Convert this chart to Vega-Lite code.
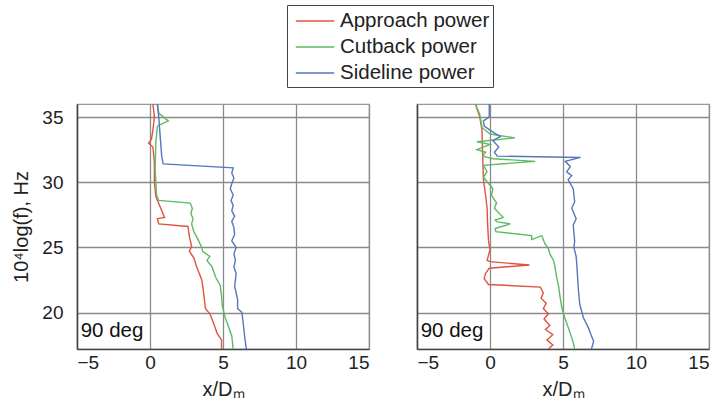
{
  "$schema": "https://vega.github.io/schema/vega-lite/v6.json",
  "autosize": "pad",
  "padding": {"left": 11, "top": 4, "right": 2, "bottom": 5},
  "background": "white",
  "config": {
    "font": "Liberation Sans",
    "view": {"stroke": "#999", "strokeWidth": 1.2},
    "axis": {"labelFont": "Liberation Sans", "titleFont": "Liberation Sans", "labelFontSize": 19, "titleFontSize": 20, "titleFontWeight": "normal", "labelColor": "#222", "titleColor": "#222", "gridColor": "#8a8a8a", "gridWidth": 1.3, "gridOpacity": 1, "domainColor": "#444", "domainWidth": 1.5, "tickSize": 0}
  },
  "spacing": 48,
  "bounds": "flush",
  "datasets": {
    "curves": [
      {"panel": "L", "s": "Approach power", "x": 0.2, "y": 36.0},
      {"panel": "L", "s": "Approach power", "x": 0.3, "y": 35.0},
      {"panel": "L", "s": "Approach power", "x": 0.2, "y": 34.0},
      {"panel": "L", "s": "Approach power", "x": 0.1, "y": 33.3},
      {"panel": "L", "s": "Approach power", "x": -0.1, "y": 33.0},
      {"panel": "L", "s": "Approach power", "x": 0.2, "y": 32.7},
      {"panel": "L", "s": "Approach power", "x": 0.3, "y": 31.5},
      {"panel": "L", "s": "Approach power", "x": 0.3, "y": 30.0},
      {"panel": "L", "s": "Approach power", "x": 0.4, "y": 28.9},
      {"panel": "L", "s": "Approach power", "x": 1.0, "y": 27.3},
      {"panel": "L", "s": "Approach power", "x": 0.5, "y": 27.2},
      {"panel": "L", "s": "Approach power", "x": 0.6, "y": 26.8},
      {"panel": "L", "s": "Approach power", "x": 2.6, "y": 26.6},
      {"panel": "L", "s": "Approach power", "x": 2.7, "y": 25.8},
      {"panel": "L", "s": "Approach power", "x": 2.85, "y": 25.1},
      {"panel": "L", "s": "Approach power", "x": 2.7, "y": 24.7},
      {"panel": "L", "s": "Approach power", "x": 3.0, "y": 24.2},
      {"panel": "L", "s": "Approach power", "x": 3.2, "y": 23.5},
      {"panel": "L", "s": "Approach power", "x": 3.55, "y": 22.5},
      {"panel": "L", "s": "Approach power", "x": 3.65, "y": 21.7},
      {"panel": "L", "s": "Approach power", "x": 3.8, "y": 20.3},
      {"panel": "L", "s": "Approach power", "x": 4.1, "y": 19.9},
      {"panel": "L", "s": "Approach power", "x": 4.35, "y": 19.2},
      {"panel": "L", "s": "Approach power", "x": 4.6, "y": 18.4},
      {"panel": "L", "s": "Approach power", "x": 4.9, "y": 17.9},
      {"panel": "L", "s": "Approach power", "x": 4.9, "y": 17.2},

      {"panel": "L", "s": "Cutback power", "x": 0.5, "y": 36.0},
      {"panel": "L", "s": "Cutback power", "x": 0.6, "y": 35.3},
      {"panel": "L", "s": "Cutback power", "x": 1.25, "y": 34.7},
      {"panel": "L", "s": "Cutback power", "x": 0.5, "y": 34.3},
      {"panel": "L", "s": "Cutback power", "x": 0.4, "y": 33.0},
      {"panel": "L", "s": "Cutback power", "x": 0.35, "y": 31.0},
      {"panel": "L", "s": "Cutback power", "x": 0.4, "y": 30.0},
      {"panel": "L", "s": "Cutback power", "x": 0.45, "y": 29.0},
      {"panel": "L", "s": "Cutback power", "x": 0.6, "y": 28.6},
      {"panel": "L", "s": "Cutback power", "x": 2.75, "y": 28.4},
      {"panel": "L", "s": "Cutback power", "x": 2.9, "y": 28.0},
      {"panel": "L", "s": "Cutback power", "x": 2.8, "y": 27.6},
      {"panel": "L", "s": "Cutback power", "x": 2.95, "y": 27.2},
      {"panel": "L", "s": "Cutback power", "x": 2.85, "y": 26.8},
      {"panel": "L", "s": "Cutback power", "x": 3.0, "y": 26.2},
      {"panel": "L", "s": "Cutback power", "x": 3.2, "y": 25.8},
      {"panel": "L", "s": "Cutback power", "x": 3.55, "y": 25.0},
      {"panel": "L", "s": "Cutback power", "x": 3.6, "y": 24.7},
      {"panel": "L", "s": "Cutback power", "x": 4.1, "y": 24.3},
      {"panel": "L", "s": "Cutback power", "x": 3.9, "y": 24.0},
      {"panel": "L", "s": "Cutback power", "x": 4.25, "y": 23.5},
      {"panel": "L", "s": "Cutback power", "x": 4.5, "y": 22.7},
      {"panel": "L", "s": "Cutback power", "x": 4.8, "y": 22.1},
      {"panel": "L", "s": "Cutback power", "x": 4.9, "y": 21.3},
      {"panel": "L", "s": "Cutback power", "x": 4.95, "y": 20.5},
      {"panel": "L", "s": "Cutback power", "x": 5.15, "y": 19.6},
      {"panel": "L", "s": "Cutback power", "x": 5.35, "y": 19.0},
      {"panel": "L", "s": "Cutback power", "x": 5.6, "y": 18.2},
      {"panel": "L", "s": "Cutback power", "x": 5.7, "y": 17.2},

      {"panel": "L", "s": "Sideline power", "x": 0.5, "y": 36.0},
      {"panel": "L", "s": "Sideline power", "x": 0.6, "y": 35.0},
      {"panel": "L", "s": "Sideline power", "x": 0.7, "y": 33.5},
      {"panel": "L", "s": "Sideline power", "x": 0.8, "y": 32.0},
      {"panel": "L", "s": "Sideline power", "x": 0.9, "y": 31.4},
      {"panel": "L", "s": "Sideline power", "x": 5.7, "y": 31.1},
      {"panel": "L", "s": "Sideline power", "x": 5.6, "y": 30.7},
      {"panel": "L", "s": "Sideline power", "x": 5.75, "y": 30.3},
      {"panel": "L", "s": "Sideline power", "x": 5.6, "y": 29.9},
      {"panel": "L", "s": "Sideline power", "x": 5.5, "y": 29.5},
      {"panel": "L", "s": "Sideline power", "x": 5.7, "y": 29.0},
      {"panel": "L", "s": "Sideline power", "x": 5.55, "y": 28.6},
      {"panel": "L", "s": "Sideline power", "x": 5.7, "y": 28.2},
      {"panel": "L", "s": "Sideline power", "x": 5.6, "y": 27.8},
      {"panel": "L", "s": "Sideline power", "x": 5.8, "y": 27.4},
      {"panel": "L", "s": "Sideline power", "x": 5.6, "y": 27.0},
      {"panel": "L", "s": "Sideline power", "x": 5.75, "y": 26.5},
      {"panel": "L", "s": "Sideline power", "x": 5.8, "y": 26.0},
      {"panel": "L", "s": "Sideline power", "x": 5.6, "y": 25.5},
      {"panel": "L", "s": "Sideline power", "x": 5.9, "y": 25.0},
      {"panel": "L", "s": "Sideline power", "x": 5.75, "y": 24.5},
      {"panel": "L", "s": "Sideline power", "x": 5.85, "y": 24.0},
      {"panel": "L", "s": "Sideline power", "x": 5.75, "y": 23.5},
      {"panel": "L", "s": "Sideline power", "x": 5.9, "y": 23.0},
      {"panel": "L", "s": "Sideline power", "x": 5.8, "y": 22.0},
      {"panel": "L", "s": "Sideline power", "x": 6.0, "y": 21.0},
      {"panel": "L", "s": "Sideline power", "x": 6.0, "y": 20.3},
      {"panel": "L", "s": "Sideline power", "x": 6.3, "y": 20.0},
      {"panel": "L", "s": "Sideline power", "x": 6.4, "y": 19.0},
      {"panel": "L", "s": "Sideline power", "x": 6.5, "y": 18.0},
      {"panel": "L", "s": "Sideline power", "x": 6.6, "y": 17.2},

      {"panel": "R", "s": "Approach power", "x": -1.0, "y": 36.0},
      {"panel": "R", "s": "Approach power", "x": -0.7, "y": 35.0},
      {"panel": "R", "s": "Approach power", "x": -0.55, "y": 34.0},
      {"panel": "R", "s": "Approach power", "x": -0.5, "y": 32.0},
      {"panel": "R", "s": "Approach power", "x": -0.45, "y": 30.2},
      {"panel": "R", "s": "Approach power", "x": -0.3, "y": 29.0},
      {"panel": "R", "s": "Approach power", "x": -0.2, "y": 28.0},
      {"panel": "R", "s": "Approach power", "x": -0.15, "y": 26.5},
      {"panel": "R", "s": "Approach power", "x": -0.1, "y": 25.5},
      {"panel": "R", "s": "Approach power", "x": 0.0, "y": 24.8},
      {"panel": "R", "s": "Approach power", "x": -0.2, "y": 24.0},
      {"panel": "R", "s": "Approach power", "x": 0.0, "y": 23.9},
      {"panel": "R", "s": "Approach power", "x": 2.7, "y": 23.65},
      {"panel": "R", "s": "Approach power", "x": -0.05, "y": 23.4},
      {"panel": "R", "s": "Approach power", "x": -0.3, "y": 23.0},
      {"panel": "R", "s": "Approach power", "x": -0.4, "y": 22.6},
      {"panel": "R", "s": "Approach power", "x": -0.1, "y": 22.15},
      {"panel": "R", "s": "Approach power", "x": 3.45, "y": 21.95},
      {"panel": "R", "s": "Approach power", "x": 3.65, "y": 21.5},
      {"panel": "R", "s": "Approach power", "x": 3.5, "y": 21.1},
      {"panel": "R", "s": "Approach power", "x": 3.85, "y": 20.7},
      {"panel": "R", "s": "Approach power", "x": 3.65, "y": 20.3},
      {"panel": "R", "s": "Approach power", "x": 4.0, "y": 19.9},
      {"panel": "R", "s": "Approach power", "x": 3.7, "y": 19.5},
      {"panel": "R", "s": "Approach power", "x": 4.1, "y": 19.0},
      {"panel": "R", "s": "Approach power", "x": 3.8, "y": 18.7},
      {"panel": "R", "s": "Approach power", "x": 4.3, "y": 18.3},
      {"panel": "R", "s": "Approach power", "x": 3.9, "y": 17.9},
      {"panel": "R", "s": "Approach power", "x": 4.3, "y": 17.5},
      {"panel": "R", "s": "Approach power", "x": 4.0, "y": 17.2},

      {"panel": "R", "s": "Cutback power", "x": -1.0, "y": 36.0},
      {"panel": "R", "s": "Cutback power", "x": -0.7, "y": 35.2},
      {"panel": "R", "s": "Cutback power", "x": -0.55, "y": 34.2},
      {"panel": "R", "s": "Cutback power", "x": 0.0, "y": 33.7},
      {"panel": "R", "s": "Cutback power", "x": 1.7, "y": 33.4},
      {"panel": "R", "s": "Cutback power", "x": -0.9, "y": 33.1},
      {"panel": "R", "s": "Cutback power", "x": 0.0, "y": 32.9},
      {"panel": "R", "s": "Cutback power", "x": -0.9, "y": 32.5},
      {"panel": "R", "s": "Cutback power", "x": -0.3, "y": 32.3},
      {"panel": "R", "s": "Cutback power", "x": -0.5, "y": 32.0},
      {"panel": "R", "s": "Cutback power", "x": 0.2, "y": 31.8},
      {"panel": "R", "s": "Cutback power", "x": 3.1, "y": 31.6},
      {"panel": "R", "s": "Cutback power", "x": -0.45, "y": 31.3},
      {"panel": "R", "s": "Cutback power", "x": -0.2, "y": 30.8},
      {"panel": "R", "s": "Cutback power", "x": -0.45, "y": 30.4},
      {"panel": "R", "s": "Cutback power", "x": -0.1, "y": 29.9},
      {"panel": "R", "s": "Cutback power", "x": 0.2, "y": 29.5},
      {"panel": "R", "s": "Cutback power", "x": 0.1, "y": 29.0},
      {"panel": "R", "s": "Cutback power", "x": 0.45, "y": 28.4},
      {"panel": "R", "s": "Cutback power", "x": 0.3, "y": 28.0},
      {"panel": "R", "s": "Cutback power", "x": 0.9, "y": 27.3},
      {"panel": "R", "s": "Cutback power", "x": 0.35, "y": 27.1},
      {"panel": "R", "s": "Cutback power", "x": 0.5, "y": 26.95},
      {"panel": "R", "s": "Cutback power", "x": 1.4, "y": 26.8},
      {"panel": "R", "s": "Cutback power", "x": 0.35, "y": 26.45},
      {"panel": "R", "s": "Cutback power", "x": 0.4, "y": 26.2},
      {"panel": "R", "s": "Cutback power", "x": 2.85, "y": 25.9},
      {"panel": "R", "s": "Cutback power", "x": 2.85, "y": 25.6},
      {"panel": "R", "s": "Cutback power", "x": 3.55, "y": 25.9},
      {"panel": "R", "s": "Cutback power", "x": 3.75, "y": 25.3},
      {"panel": "R", "s": "Cutback power", "x": 4.0, "y": 24.9},
      {"panel": "R", "s": "Cutback power", "x": 4.1, "y": 24.5},
      {"panel": "R", "s": "Cutback power", "x": 4.35, "y": 24.0},
      {"panel": "R", "s": "Cutback power", "x": 4.45, "y": 23.5},
      {"panel": "R", "s": "Cutback power", "x": 4.55, "y": 22.8},
      {"panel": "R", "s": "Cutback power", "x": 4.7, "y": 22.0},
      {"panel": "R", "s": "Cutback power", "x": 4.8, "y": 21.2},
      {"panel": "R", "s": "Cutback power", "x": 4.9, "y": 20.5},
      {"panel": "R", "s": "Cutback power", "x": 5.0, "y": 20.0},
      {"panel": "R", "s": "Cutback power", "x": 5.25, "y": 19.2},
      {"panel": "R", "s": "Cutback power", "x": 5.5, "y": 18.4},
      {"panel": "R", "s": "Cutback power", "x": 5.7, "y": 17.7},
      {"panel": "R", "s": "Cutback power", "x": 5.8, "y": 17.2},

      {"panel": "R", "s": "Sideline power", "x": -0.05, "y": 36.0},
      {"panel": "R", "s": "Sideline power", "x": -0.05, "y": 35.0},
      {"panel": "R", "s": "Sideline power", "x": -0.45, "y": 34.7},
      {"panel": "R", "s": "Sideline power", "x": -0.4, "y": 34.3},
      {"panel": "R", "s": "Sideline power", "x": 0.0, "y": 34.0},
      {"panel": "R", "s": "Sideline power", "x": 0.7, "y": 33.5},
      {"panel": "R", "s": "Sideline power", "x": 0.2, "y": 33.2},
      {"panel": "R", "s": "Sideline power", "x": 0.6, "y": 32.7},
      {"panel": "R", "s": "Sideline power", "x": 0.3, "y": 32.3},
      {"panel": "R", "s": "Sideline power", "x": 0.5, "y": 32.0},
      {"panel": "R", "s": "Sideline power", "x": 6.2, "y": 31.9},
      {"panel": "R", "s": "Sideline power", "x": 5.15, "y": 31.6},
      {"panel": "R", "s": "Sideline power", "x": 5.5, "y": 31.2},
      {"panel": "R", "s": "Sideline power", "x": 5.25, "y": 30.8},
      {"panel": "R", "s": "Sideline power", "x": 5.6, "y": 30.5},
      {"panel": "R", "s": "Sideline power", "x": 5.35, "y": 30.2},
      {"panel": "R", "s": "Sideline power", "x": 5.7, "y": 29.5},
      {"panel": "R", "s": "Sideline power", "x": 5.8, "y": 28.5},
      {"panel": "R", "s": "Sideline power", "x": 5.6, "y": 28.0},
      {"panel": "R", "s": "Sideline power", "x": 5.9, "y": 27.2},
      {"panel": "R", "s": "Sideline power", "x": 5.7, "y": 26.7},
      {"panel": "R", "s": "Sideline power", "x": 5.8, "y": 25.5},
      {"panel": "R", "s": "Sideline power", "x": 5.75, "y": 25.0},
      {"panel": "R", "s": "Sideline power", "x": 5.9, "y": 24.3},
      {"panel": "R", "s": "Sideline power", "x": 5.95, "y": 23.6},
      {"panel": "R", "s": "Sideline power", "x": 6.05, "y": 21.8},
      {"panel": "R", "s": "Sideline power", "x": 6.15, "y": 20.6},
      {"panel": "R", "s": "Sideline power", "x": 6.4, "y": 19.6},
      {"panel": "R", "s": "Sideline power", "x": 6.75, "y": 18.8},
      {"panel": "R", "s": "Sideline power", "x": 6.95, "y": 18.2},
      {"panel": "R", "s": "Sideline power", "x": 7.1, "y": 17.8},
      {"panel": "R", "s": "Sideline power", "x": 6.95, "y": 17.2}
    ]
  },
  "hconcat": [
    {
      "width": 292,
      "height": 245,
      "layer": [
        {
          "data": {"name": "curves"},
          "transform": [{"filter": "datum.panel === 'L'"}],
          "mark": {"type": "line", "strokeWidth": 1.4, "clip": true},
          "encoding": {
            "x": {"field": "x", "type": "quantitative", "scale": {"domain": [-5, 15], "nice": false}, "axis": {"values": [-5, 0, 5, 10, 15], "title": "x/Dₘ", "labelPadding": 4, "titlePadding": 7}},
            "y": {"field": "y", "type": "quantitative", "scale": {"domain": [17.2, 36], "nice": false, "zero": false}, "axis": {"values": [20, 25, 30, 35], "title": "10⁴log(f), Hz", "labelPadding": 14, "titlePadding": 10}},
            "color": {"field": "s", "type": "nominal", "scale": {"domain": ["Approach power", "Cutback power", "Sideline power"], "range": ["#e0533f", "#5dbb63", "#5577bb"]},
              "legend": {"orient": "none", "legendX": 210, "legendY": -99, "title": null, "symbolType": "M-1.6,0H1.6", "symbolSize": 576, "symbolStrokeWidth": 1.6, "symbolOffset": 12, "labelFontSize": 20.5, "labelFont": "Liberation Sans", "labelColor": "#222", "rowPadding": 2, "padding": 3, "strokeColor": "#444", "fillColor": "white", "labelOffset": 12}},
            "order": {"value": null}
          }
        },
        {
          "data": {"values": [{"label": "90 deg"}]},
          "mark": {"type": "text", "align": "left", "baseline": "middle", "fontSize": 20.5, "font": "Liberation Sans", "color": "#111"},
          "encoding": {"x": {"datum": -4.75}, "y": {"datum": 18.6}, "text": {"field": "label"}}
        }
      ]
    },
    {
      "width": 292,
      "height": 245,
      "layer": [
        {
          "data": {"name": "curves"},
          "transform": [{"filter": "datum.panel === 'R'"}],
          "mark": {"type": "line", "strokeWidth": 1.4, "clip": true},
          "encoding": {
            "x": {"field": "x", "type": "quantitative", "scale": {"domain": [-5, 15], "nice": false}, "axis": {"values": [-5, 0, 5, 10, 15], "title": "x/Dₘ", "labelPadding": 4, "titlePadding": 7}},
            "y": {"field": "y", "type": "quantitative", "scale": {"domain": [17.2, 36], "nice": false, "zero": false}, "axis": {"values": [20, 25, 30, 35], "title": null, "labels": false}},
            "color": {"field": "s", "type": "nominal", "scale": {"domain": ["Approach power", "Cutback power", "Sideline power"], "range": ["#e0533f", "#5dbb63", "#5577bb"]}, "legend": null},
            "order": {"value": null}
          }
        },
        {
          "data": {"values": [{"label": "90 deg"}]},
          "mark": {"type": "text", "align": "left", "baseline": "middle", "fontSize": 20.5, "font": "Liberation Sans", "color": "#111"},
          "encoding": {"x": {"datum": -4.75}, "y": {"datum": 18.6}, "text": {"field": "label"}}
        }
      ]
    }
  ]
}
